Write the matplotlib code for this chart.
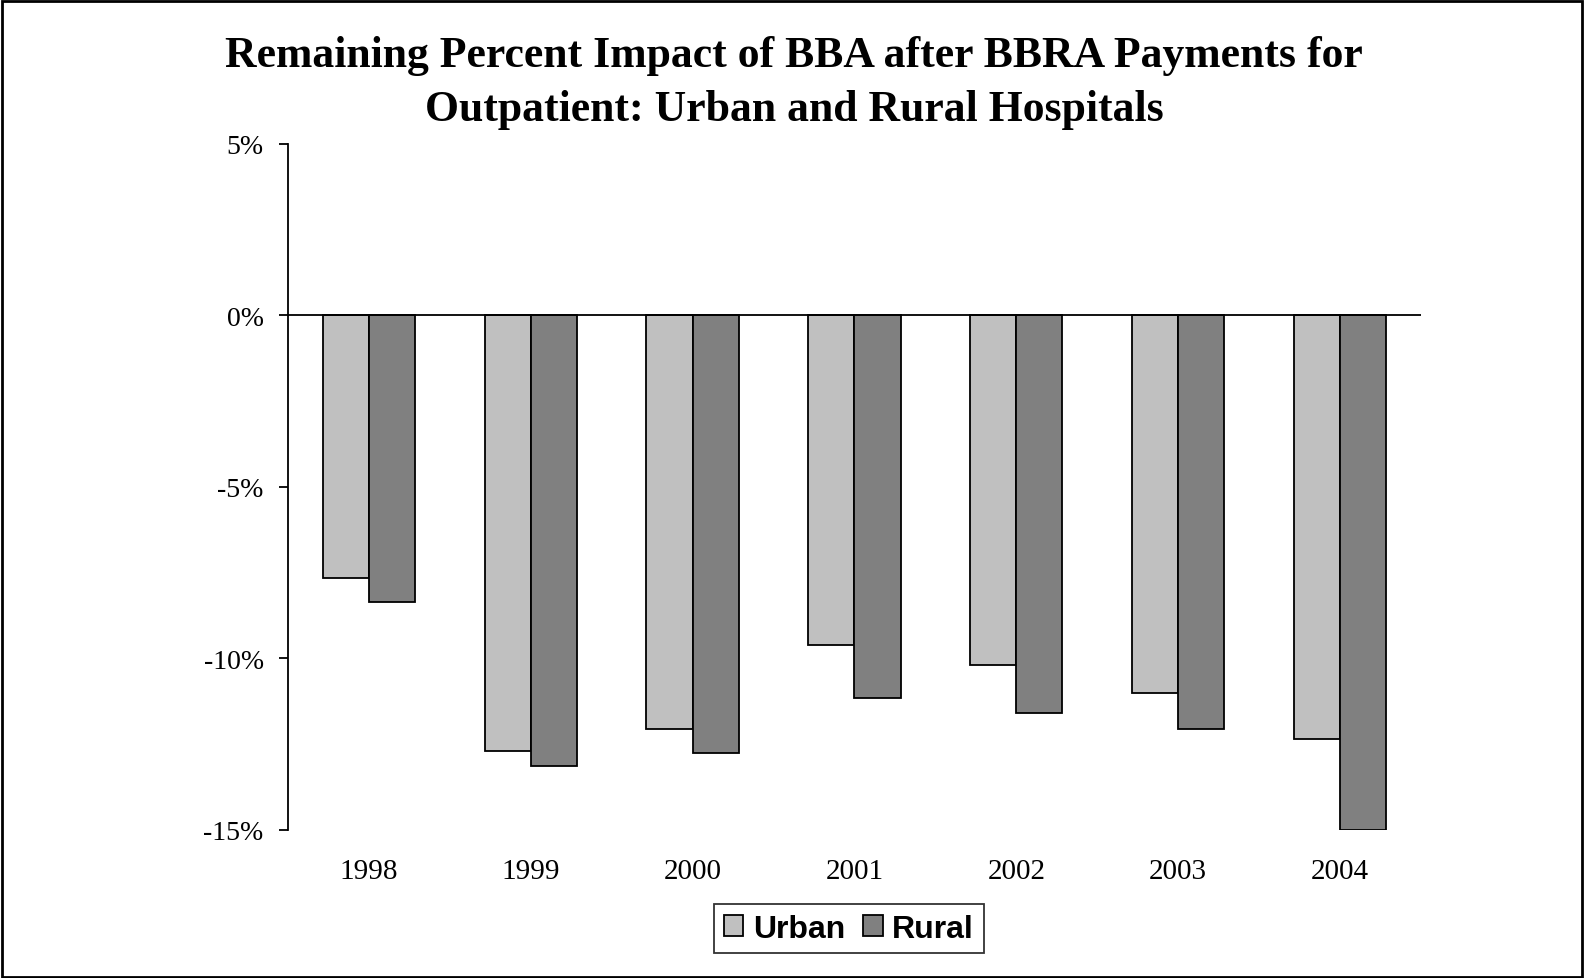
import matplotlib
matplotlib.use("Agg")
import matplotlib.pyplot as plt
from matplotlib.patches import Rectangle
import numpy as np

years = ["1998", "1999", "2000", "2001", "2002", "2003", "2004"]
urban = [-7.65, -12.7, -12.05, -9.6, -10.2, -11.0, -12.35]
rural = [-8.35, -13.15, -12.75, -11.15, -11.6, -12.05, -15.0]
yticks = [5, 0, -5, -10, -15]

fig = plt.figure(figsize=(15.85, 9.79), dpi=100)
ax = fig.add_axes([0.1817, 0.1512, 0.7148, 0.7012])

x = np.arange(len(years))
w = 0.285
ax.bar(x - w / 2, urban, w, color="#C0C0C0", edgecolor="black", linewidth=1.3, label="Urban")
ax.bar(x + w / 2, rural, w, color="#808080", edgecolor="black", linewidth=1.3, label="Rural")

ax.set_xlim(-0.5, len(years) - 0.5)
ax.set_ylim(-15, 5)
ax.axhline(0, color="black", linewidth=1.3)

ax.set_yticks(yticks)
ax.set_yticklabels([f"{v}%" for v in yticks], family="Liberation Serif", fontsize=20)
ax.set_xticks(x)
ax.set_xticklabels(years, family="Liberation Serif", fontsize=21)
ax.tick_params(axis="x", length=0, pad=20)
ax.tick_params(axis="y", direction="out", length=6.5, width=1.3, pad=11)

for s in ["top", "right", "bottom"]:
    ax.spines[s].set_visible(False)
ax.spines["left"].set_linewidth(1.3)

fig.text(0.501, 0.9155, "Remaining Percent Impact of BBA after BBRA Payments for\nOutpatient: Urban and Rural Hospitals",
         ha="center", va="center", family="Liberation Serif", fontweight="bold", fontsize=31.5,
         linespacing=1.45)

leg = fig.legend(loc="center", bbox_to_anchor=(0.5355, 0.0505), ncol=2, frameon=True,
                 prop={"family": "Liberation Sans", "weight": "bold", "size": 23},
                 handlelength=0.62, handleheight=0.62, handletextpad=0.3, columnspacing=0.55,
                 borderpad=0.3, borderaxespad=0, fancybox=False, edgecolor="black")
leg.get_frame().set_linewidth(1.3)

fig.patches.append(Rectangle((0.001, 0.001), 0.997, 0.997, transform=fig.transFigure,
                             fill=False, edgecolor="black", linewidth=2))

fig.savefig("out.png", dpi=100)
